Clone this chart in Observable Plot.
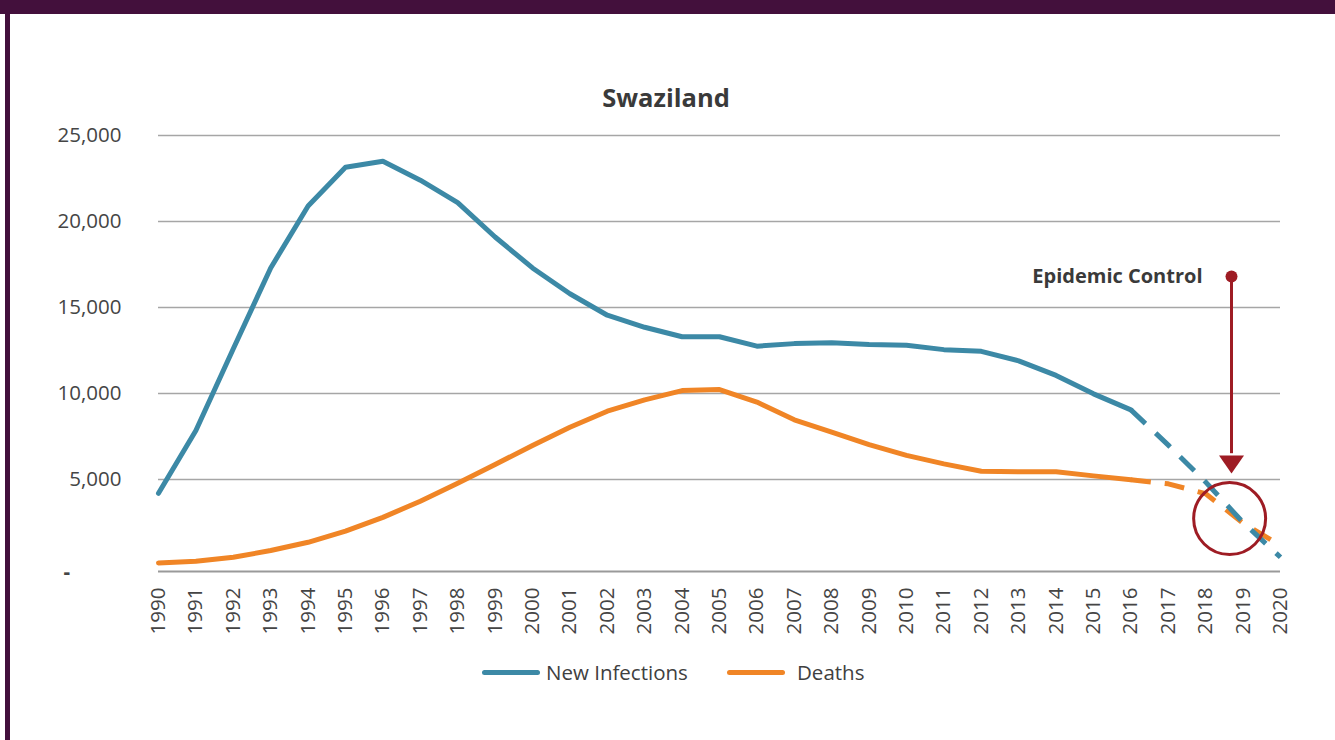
<!DOCTYPE html>
<html><head><meta charset="utf-8">
<script src="https://cdn.jsdelivr.net/npm/d3@7"></script>
<script src="https://cdn.jsdelivr.net/npm/@observablehq/plot@0.6"></script>
<style>
body{margin:0;background:#fff;font-family:"Open Sans",sans-serif;}
#wrap{position:relative;width:1335px;height:740px;overflow:hidden;background:#fff;}
#chart{position:absolute;left:0;top:0;}
#topbar{position:absolute;left:0;top:0;width:1335px;height:14px;background:#43103c;}
#leftbar{position:absolute;left:5px;top:0;width:5px;height:740px;background:#43103c;}
#title{position:absolute;left:0;width:1332px;top:82px;text-align:center;font-weight:700;font-size:25.5px;color:#3a3a3a;line-height:30px;}
.sw{position:absolute;height:5px;width:58px;border-radius:3px;top:670px;}
.lt{position:absolute;top:658px;font-size:20.5px;line-height:28px;color:#404040;}
</style></head>
<body><div id="wrap">
<div id="chart"></div>
<div id="topbar"></div><div id="leftbar"></div>
<div id="title">Swaziland</div>
<div class="sw" style="left:482px;background:#3c89a6"></div><div class="lt" style="left:546px">New Infections</div>
<div class="sw" style="left:727px;background:#f08526"></div><div class="lt" style="left:797px">Deaths</div>
</div>
<script>
const years = [1990,1991,1992,1993,1994,1995,1996,1997,1998,1999,2000,2001,2002,2003,2004,2005,2006,2007,2008,2009,2010,2011,2012,2013,2014,2015,2016,2017,2018,2019,2020];
const newInfections = [4200,7850,12600,17300,20900,23150,23500,22400,21100,19100,17300,15800,14550,13850,13300,13300,12750,12900,12950,12850,12800,12550,12450,11900,11050,9980,9050,7000,4850,2500,480];
const deaths = [150,250,480,870,1350,2000,2800,3740,4780,5870,6980,8040,8970,9630,10170,10230,9500,8470,7750,7030,6400,5910,5480,5450,5450,5210,4980,4750,4170,2460,1160];
const projectionStart = 2016;
const yTicks = [5000,10000,15000,20000,25000];
const annotYear = 2018.69, annotTop = 16800, annotTip = 5350, annotShaft = 6500;
const circleYear = 2018.64, circleValue = 2730;
const annotLabel = "Epidemic Control";

const blue = "#3c89a6", orange = "#f08526", red = "#9e1c24", ink = "#454545";
const rows = (vals) => years.map((year, i) => ({year, value: vals[i]}));
const inf = rows(newInfections), dth = rows(deaths);
const arrowHead = {draw(ctx){ctx.moveTo(-12.5,-18);ctx.lineTo(12.5,-18);ctx.lineTo(0,0);ctx.closePath();}};

const lineSolid = {x:"year", y:"value", strokeWidth:5, strokeLinejoin:"round", strokeLinecap:"round"};
const lineDash = {x:"year", y:"value", strokeWidth:5, strokeLinejoin:"round", strokeLinecap:"butt", strokeDasharray:"20,14"};

const chart = Plot.plot({
  width:1335, height:650,
  marginLeft:158, marginRight:55, marginTop:135, marginBottom:85,
  style:{fontFamily:"'Open Sans', sans-serif", fontSize:"20.5px", color:ink, background:"transparent"},
  x:{domain:[1990,2020]},
  y:{domain:[0,25000]},
  marks:[
    Plot.gridY(yTicks, {stroke:"#a6a6a6", strokeOpacity:1, strokeWidth:1.5}),
    Plot.ruleY([0], {dy:6, stroke:"#9a9a9a", strokeWidth:2}),
    Plot.axisY(yTicks, {tickSize:0, tickPadding:37, tickFormat:d3.format(","), label:null, fill:ink}),
    Plot.text([0], {y:d=>d, frameAnchor:"left", dx:-95, dy:7, text:()=>"-", fill:ink, fontWeight:"bold"}),
    Plot.axisX(years, {tickRotate:-90, tickSize:0, tickPadding:22, tickFormat:d=>String(d), label:null, fill:ink}),
    Plot.lineY(dth.filter(d=>d.year<=projectionStart), {...lineSolid, stroke:orange}),
    Plot.lineY(inf.filter(d=>d.year<=projectionStart), {...lineSolid, stroke:blue}),
    Plot.lineY(dth.filter(d=>d.year>=projectionStart), {...lineDash, stroke:orange}),
    Plot.lineY(inf.filter(d=>d.year>=projectionStart), {...lineDash, stroke:blue}),
    Plot.ruleX([annotYear], {y1:annotTop, y2:annotShaft, stroke:red, strokeWidth:3}),
    Plot.dot([annotYear], {x:d=>d, y:annotTip, symbol:arrowHead, fill:red, r:10}),
    Plot.dot([annotYear], {x:d=>d, y:annotTop, fill:red, r:6}),
    Plot.dot([circleYear], {x:d=>d, y:circleValue, r:36, stroke:red, strokeWidth:3, fill:"none"}),
    Plot.text([annotLabel], {x:annotYear, y:annotTop, text:d=>d, dx:-29, textAnchor:"end", fontWeight:"bold", fontSize:20, fill:"#3a3a3a"})
  ]
});
document.getElementById("chart").appendChild(chart);
</script>
</body></html>
